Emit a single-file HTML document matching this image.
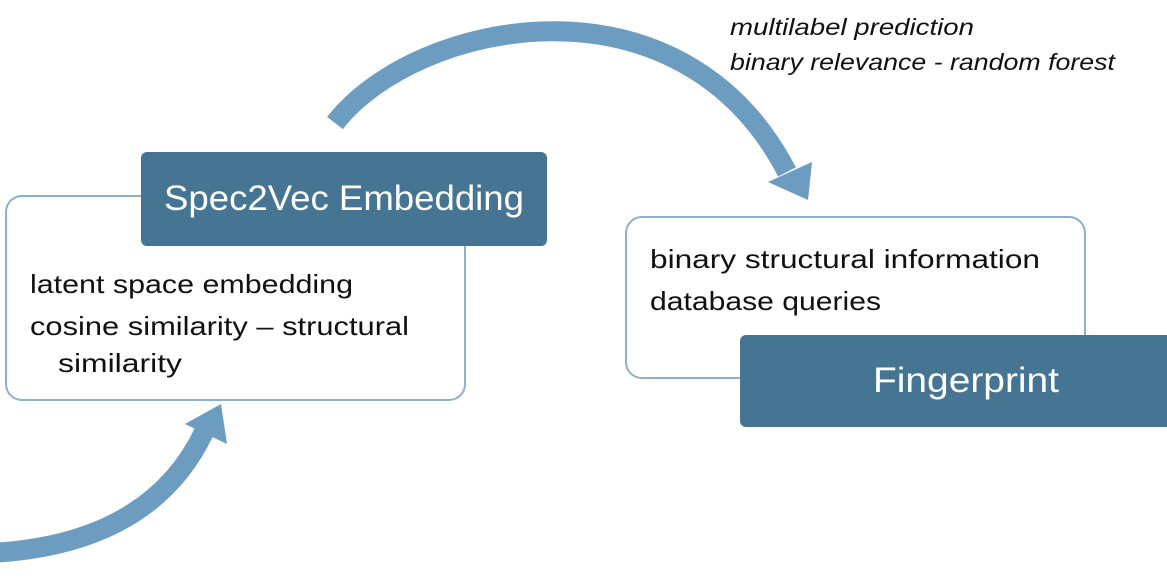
<!DOCTYPE html>
<html><head><meta charset="utf-8"><style>
html,body{margin:0;padding:0;background:#fff;}
svg{display:block;}
text{font-family:"Liberation Sans",sans-serif;}
</style></head><body>
<svg width="1167" height="581" viewBox="0 0 1167 581" xmlns="http://www.w3.org/2000/svg">
  <!-- top arrow -->
  <path d="M 335 123 C 415 20, 680 -35, 787 172" fill="none" stroke="#6c9dc1" stroke-width="20"/>
  <polygon points="768,182 812,162 808,200" fill="#6c9dc1"/>
  <!-- bottom arrow -->
  <path d="M -10 553 Q 150 545 204 432" fill="none" stroke="#6c9dc1" stroke-width="20"/>
  <polygon points="185,424 221,404 227,444" fill="#6c9dc1"/>

  <!-- left box -->
  <rect x="6" y="196" width="459" height="204" rx="16" fill="#fff" stroke="#8eb0ca" stroke-width="2"/>
  <rect x="141" y="152" width="406" height="94" rx="6" fill="#467594"/>
  <text x="344" y="210" fill="#fff" font-size="35" text-anchor="middle" textLength="360" lengthAdjust="spacingAndGlyphs">Spec2Vec Embedding</text>
  <text x="30" y="293" font-size="26" fill="#111" textLength="323" lengthAdjust="spacingAndGlyphs">latent space embedding</text>
  <text x="30" y="335" font-size="26" fill="#111" textLength="379" lengthAdjust="spacingAndGlyphs">cosine similarity – structural</text>
  <text x="58" y="372" font-size="26" fill="#111" textLength="124" lengthAdjust="spacingAndGlyphs">similarity</text>

  <!-- right box -->
  <rect x="626" y="217" width="459" height="161" rx="16" fill="#fff" stroke="#8eb0ca" stroke-width="2"/>
  <rect x="740" y="335" width="440" height="92" rx="6" fill="#467594"/>
  <text x="966" y="392" fill="#fff" font-size="35" text-anchor="middle" textLength="186" lengthAdjust="spacingAndGlyphs">Fingerprint</text>
  <text x="650" y="268" font-size="26" fill="#111" textLength="390" lengthAdjust="spacingAndGlyphs">binary structural information</text>
  <text x="650" y="310" font-size="26" fill="#111" textLength="231" lengthAdjust="spacingAndGlyphs">database queries</text>

  <!-- italic labels -->
  <text x="730" y="35" font-size="23" font-style="italic" fill="#111" textLength="244" lengthAdjust="spacingAndGlyphs">multilabel prediction</text>
  <text x="730" y="70" font-size="23" font-style="italic" fill="#111" textLength="385" lengthAdjust="spacingAndGlyphs">binary relevance - random forest</text>
</svg>
</body></html>
